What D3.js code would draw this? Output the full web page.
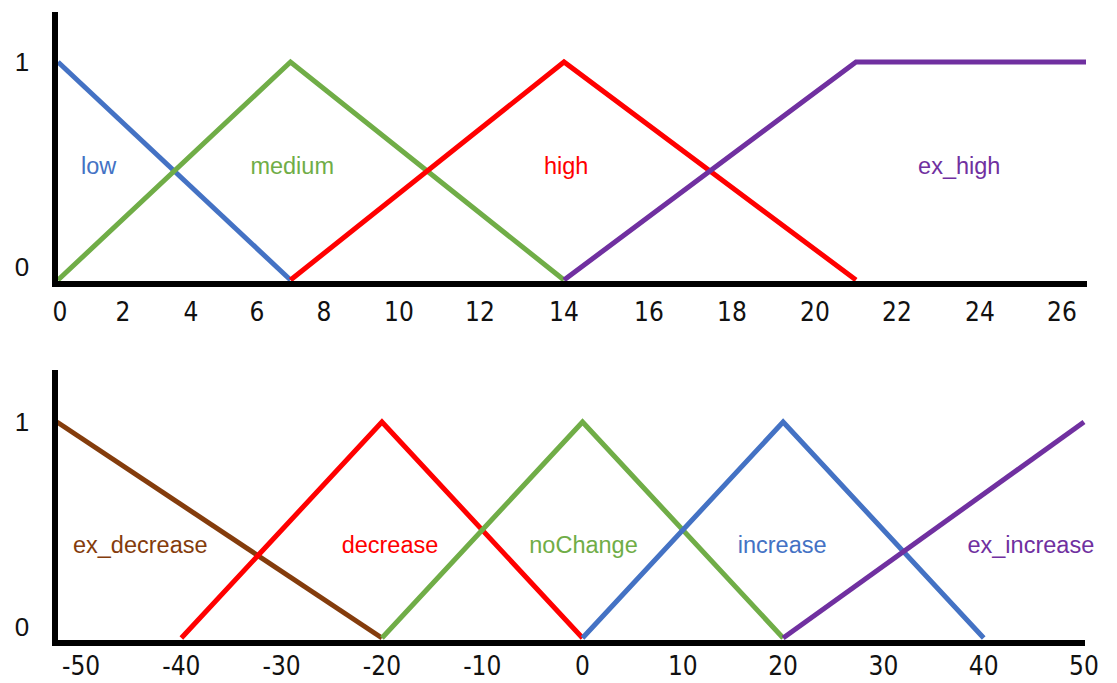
<!DOCTYPE html>
<html><head><meta charset="utf-8">
<script src="https://cdn.jsdelivr.net/npm/d3@7"></script>
<style>html,body{margin:0;padding:0;background:#fff;}svg{display:block;}</style>
</head><body>
<svg id="c" width="1117" height="683"></svg>
<script>
// ---------- DATA ----------
// Chart 1 (top)
const topTicks = [0, 2, 4, 6, 8, 10, 12, 14, 16, 18, 20, 22, 24, 26];
const topXMax = 26.6;
const topNames = ["low", "medium", "high", "ex_high"];
const lowPts = [[0, 1], [7, 0]];
const mediumPts = [[0, 0], [7, 1], [14, 0]];
const highPts = [[7, 0], [14, 1], [21, 0]];
const exHighPts = [[14, 0], [21, 1], [26.6, 1]];
const topLabelX = [1.25, 7.05, 14.05, 23.5];
// Chart 2 (bottom)
const botTicks = [-50, -40, -30, -20, -10, 0, 10, 20, 30, 40, 50];
const botXMin = -52.4, botXMax = 50;
const botNames = ["ex_decrease", "decrease", "noChange", "increase", "ex_increase"];
const exDecreasePts = [[-52.4, 1], [-20, 0]];
const decreasePts = [[-40, 0], [-20, 1], [0, 0]];
const noChangePts = [[-20, 0], [0, 1], [20, 0]];
const increasePts = [[0, 0], [20, 1], [40, 0]];
const exIncreasePts = [[20, 0], [50, 1]];
const botLabelX = [-44.1, -19.2, 0.1, 19.9, 44.7];
const yTicks = [0, 1];

// ---------- STYLE ----------
const colors = {blue: "#4472C4", green: "#70AD47", red: "#FF0000", purple: "#7030A0", brown: "#843C0C"};
const svg = d3.select("#c");

function drawChart(cfg) {
  const g = svg.append("g");
  const x = cfg.x, y = cfg.y;
  const line = d3.line().x(d => x(d[0])).y(d => y(d[1]));
  cfg.series.forEach(s => {
    g.append("path").datum(s.pts).attr("d", line)
      .attr("fill", "none").attr("stroke", s.color)
      .attr("stroke-width", 5).attr("stroke-linejoin", "miter");
  });
  // axes lines
  g.append("line").attr("x1", cfg.axisX).attr("x2", cfg.axisX)
    .attr("y1", cfg.axisTop).attr("y2", cfg.axisY + 3)
    .attr("stroke", "#000").attr("stroke-width", 6);
  g.append("line").attr("x1", cfg.axisX - 3).attr("x2", cfg.axisRight)
    .attr("y1", cfg.axisY).attr("y2", cfg.axisY)
    .attr("stroke", "#000").attr("stroke-width", 6);
  // x tick labels
  g.selectAll("text.xt").data(cfg.ticks).join("text")
    .attr("class", "xt")
    .attr("x", d => x(d) + (cfg.tickShift ? cfg.tickShift(d) : 0))
    .attr("y", cfg.tickBase)
    .attr("text-anchor", "middle")
    .attr("font-family", "'DejaVu Sans Condensed', 'Liberation Sans Narrow', sans-serif")
    .attr("font-size", 26).attr("fill", "#111")
    .text(d => d);
  // y tick labels
  g.selectAll("text.yt").data(yTicks).join("text")
    .attr("class", "yt")
    .attr("x", 22)
    .attr("y", d => d === 1 ? y(1) : cfg.zeroLabelY)
    .attr("text-anchor", "middle").attr("dominant-baseline", "central")
    .attr("font-family", "'Liberation Sans', Arial, sans-serif")
    .attr("font-size", 26).attr("fill", "#111")
    .text(d => d);
  // category labels
  g.selectAll("text.cl").data(cfg.series).join("text")
    .attr("class", "cl")
    .attr("x", (s, i) => x(cfg.labelX[i]))
    .attr("y", cfg.labelY)
    .attr("text-anchor", "middle").attr("dominant-baseline", "central")
    .attr("font-family", "'Liberation Sans', Arial, sans-serif")
    .attr("font-size", 23.5).attr("fill", s => s.color)
    .text(s => s.name);
}

// top: hand-drawn axis with uneven tick spacing -> piecewise linear scale
const xTop = d3.scaleLinear()
  .domain(topTicks.concat([topXMax]))
  .range([58, 123, 191, 257, 324, 399, 480, 564, 649, 732, 815, 897, 980, 1062, 1086]);
const yTop = d3.scaleLinear().domain([0, 1]).range([280, 62]);
drawChart({
  x: xTop, y: yTop, ticks: topTicks, axisX: 55, axisTop: 12, axisY: 284, axisRight: 1087,
  tickBase: 321, zeroLabelY: 267, labelY: 166, labelX: topLabelX,
  tickShift: d => d === 0 ? 2 : 0,
  series: [
    {name: topNames[0], pts: lowPts, color: colors.blue},
    {name: topNames[1], pts: mediumPts, color: colors.green},
    {name: topNames[2], pts: highPts, color: colors.red},
    {name: topNames[3], pts: exHighPts, color: colors.purple}
  ]
});

const xBot = d3.scaleLinear().domain([botXMin, botXMax]).range([57, 1084]);
const yBot = d3.scaleLinear().domain([0, 1]).range([638, 422]);
drawChart({
  x: xBot, y: yBot, ticks: botTicks, axisX: 55, axisTop: 370, axisY: 643, axisRight: 1085,
  tickBase: 675, zeroLabelY: 627, labelY: 545, labelX: botLabelX,
  series: [
    {name: botNames[0], pts: exDecreasePts, color: colors.brown},
    {name: botNames[1], pts: decreasePts, color: colors.red},
    {name: botNames[2], pts: noChangePts, color: colors.green},
    {name: botNames[3], pts: increasePts, color: colors.blue},
    {name: botNames[4], pts: exIncreasePts, color: colors.purple}
  ]
});
</script>
</body></html>
